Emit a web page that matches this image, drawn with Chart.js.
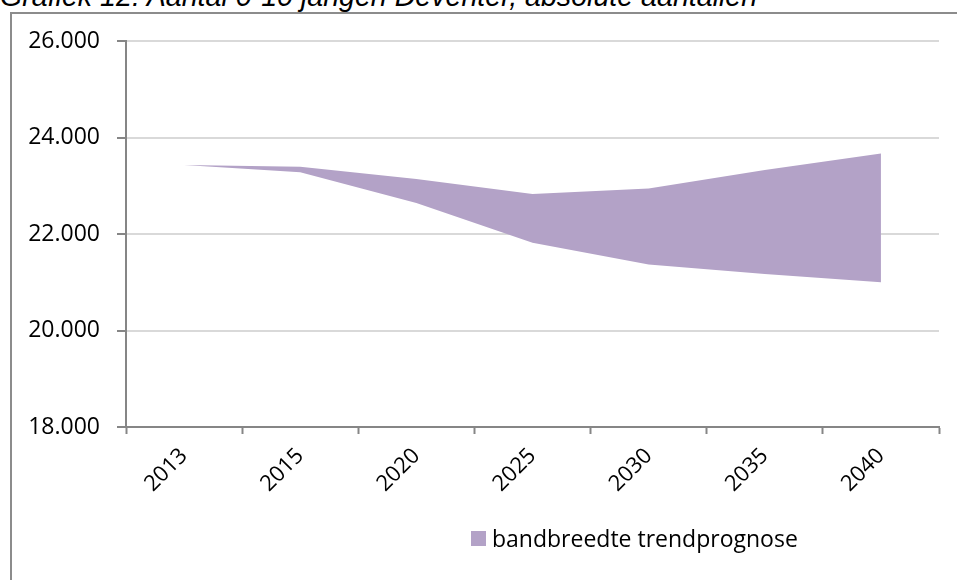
<!DOCTYPE html>
<html>
<head>
<meta charset="utf-8">
<script src="https://cdn.jsdelivr.net/npm/chart.js@4.4.1/dist/chart.umd.min.js"></script>
<style>
  html, body { margin: 0; padding: 0; background: #fff; overflow: hidden; }
  #wrap { position: relative; width: 957px; height: 580px; }
  #title { position: absolute; left: 0; top: -19px; font: italic 28.6px "Liberation Sans", Arial, sans-serif; line-height: 1.117; color: #000; white-space: nowrap; }
  #frame { position: absolute; left: 10px; top: 12px; width: 1000px; height: 700px; border: 2px solid #8c8c8c; box-sizing: border-box; }
  #cv { position: absolute; left: 0; top: 0; }
  #legend { position: absolute; left: 471px; top: 522px; font: 23px "Open Sans", sans-serif; color: #000; white-space: nowrap; display: flex; align-items: center; }
  #legend .sw { display: inline-block; width: 15px; height: 15px; background: #b3a2c7; margin-right: 6px; }
</style>
</head>
<body>
<div id="wrap">
  <div id="title">Grafiek 12: Aantal 0-10 jarigen Deventer, absolute aantallen</div>
  <div id="frame"></div>
  <canvas id="cv" width="957" height="580"></canvas>
  <div id="legend"><span class="sw"></span><span id="legtxt"></span></div>
</div>
<script>
const categories = ["2013", "2015", "2020", "2025", "2030", "2035", "2040"];
const upperValues = [23430, 23395, 23140, 22830, 22945, 23325, 23670];
const lowerValues = [23430, 23280, 22645, 21820, 21370, 21170, 21000];
const yTicks = [18000, 20000, 22000, 24000, 26000];
const seriesLabel = "bandbreedte trendprognose";
const bandColor = "#b3a2c7";

document.getElementById("legtxt").textContent = seriesLabel;

function fmt(v) { return String(v).replace(/\B(?=(\d{3})+(?!\d))/g, "."); }

new Chart(document.getElementById("cv"), {
  type: "line",
  data: {
    labels: categories,
    datasets: [
      { label: "ondergrens", data: lowerValues, borderWidth: 0, pointRadius: 0, fill: false, tension: 0 },
      { label: seriesLabel, data: upperValues, borderWidth: 0, pointRadius: 0, backgroundColor: bandColor, fill: "-1", tension: 0 }
    ]
  },
  options: {
    responsive: false,
    animation: false,
    layout: { padding: { left: 0, right: 18, top: 41, bottom: 73 } },
    plugins: { legend: { display: false }, tooltip: { enabled: false } },
    scales: {
      x: {
        offset: true,
        grid: { offset: true, drawOnChartArea: false, drawTicks: true, tickLength: 7, tickColor: "#868686", tickWidth: 2 },
        border: { color: "#868686", width: 2 },
        ticks: { autoSkip: false, minRotation: 45, maxRotation: 45, color: "#000", font: { family: "Open Sans", size: 22 }, padding: 9 },
        afterFit: s => { s.height = 80; }
      },
      y: {
        min: 18000, max: 26000,
        afterBuildTicks: s => { s.ticks = yTicks.map(v => ({ value: v })); },
        grid: { color: "#d9d9d9", lineWidth: 2, tickLength: 9, tickColor: "#868686", tickWidth: 2 },
        border: { color: "#868686", width: 2 },
        ticks: { color: "#000", font: { family: "Open Sans", size: 23 }, padding: 17, callback: v => fmt(v) },
        afterFit: s => { s.width = 126; }
      }
    }
  }
});
</script>
</body>
</html>
